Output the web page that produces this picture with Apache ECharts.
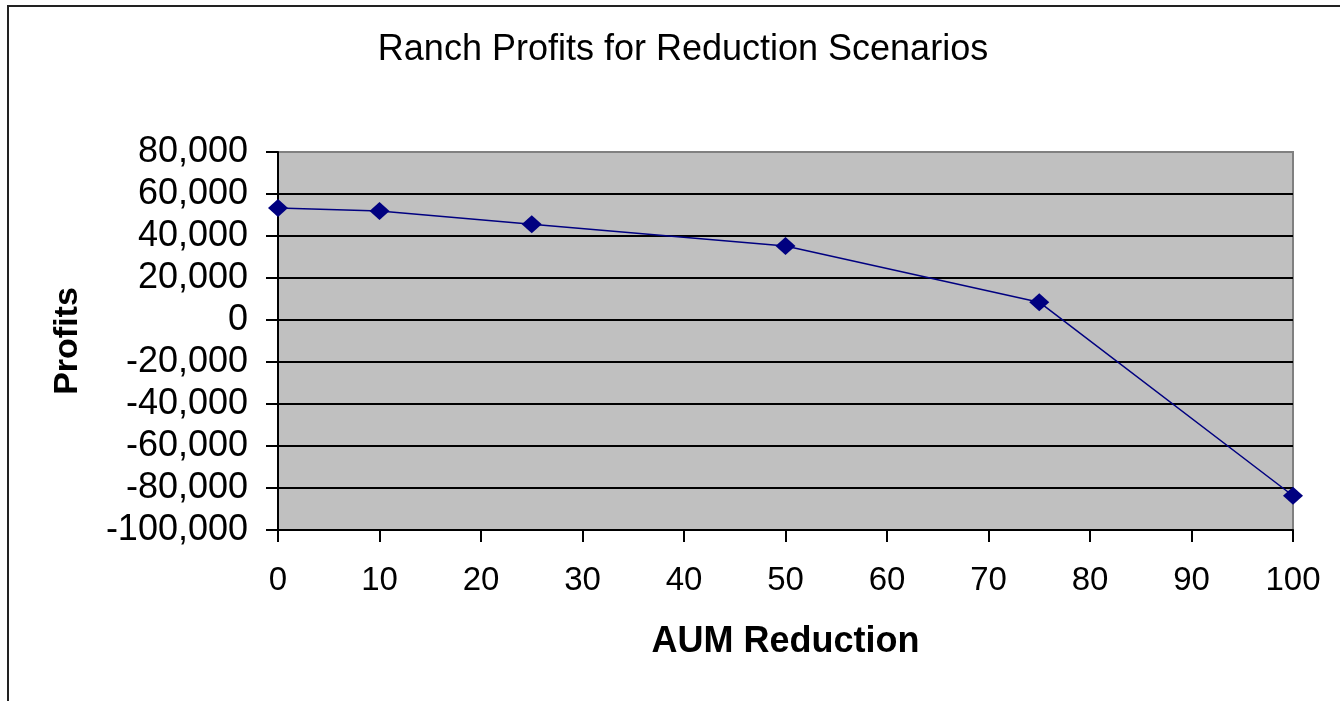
<!DOCTYPE html>
<html>
<head>
<meta charset="utf-8">
<script src="https://cdn.jsdelivr.net/npm/echarts@6/dist/echarts.min.js"></script>
<style>
  html, body { margin: 0; padding: 0; background: #fff; }
  #main { width: 1340px; height: 701px; }
</style>
</head>
<body>
<div id="main"></div>
<script>
// values
var reductions = [0, 10, 25, 50, 75, 100];
var profits = [53300, 51900, 45600, 35200, 8500, -83700];

var chartTitle = 'Ranch Profits for Reduction Scenarios';
var xName = 'AUM Reduction';
var yName = 'Profits';

var points = [];
for (var i = 0; i < reductions.length; i++) {
	points.push([reductions[i], profits[i]]);
}

var font = 'Liberation Sans, Arial, sans-serif';

var myChart = echarts.init(document.getElementById('main'));
var option = {
	backgroundColor: '#fff',
	animation: false,
	title: {
		text: chartTitle,
		left: 678,
		top: 27,
		textAlign: 'center',
		textStyle: { fontFamily: font, fontSize: 36, fontWeight: 'normal', color: '#000' }
	},
	graphic: [{
		type: 'rect',
		shape: { x: 8, y: 6, width: 1400, height: 800 },
		style: { fill: 'none', stroke: '#222', lineWidth: 2 },
		silent: true
	}],
	grid: {
		left: 278,
		top: 152,
		width: 1015,
		height: 378,
		show: true,
		backgroundColor: '#c0c0c0',
		borderColor: '#808080',
		borderWidth: 2
	},
	xAxis: {
		type: 'value',
		min: 0,
		max: 100,
		interval: 10,
		name: xName,
		nameLocation: 'middle',
		nameGap: 94,
		nameTextStyle: { fontFamily: font, fontSize: 36, fontWeight: 'bold', color: '#000' },
		axisLine: { show: true, onZero: false, lineStyle: { color: '#000', width: 2 } },
		axisTick: { show: true, inside: false, length: 12, lineStyle: { color: '#000', width: 2 } },
		axisLabel: { margin: 34, fontFamily: font, fontSize: 33, color: '#000' },
		splitLine: { show: false }
	},
	yAxis: {
		type: 'value',
		min: -100000,
		max: 80000,
		interval: 20000,
		name: yName,
		nameLocation: 'middle',
		nameGap: 193,
		nameRotate: 90,
		nameTextStyle: { fontFamily: font, fontSize: 34, fontWeight: 'bold', color: '#000' },
		axisLine: { show: true, lineStyle: { color: '#000', width: 2 } },
		axisTick: { show: true, inside: false, length: 12, lineStyle: { color: '#000', width: 2 } },
		axisLabel: {
			margin: 30,
			fontFamily: font,
			fontSize: 36,
			color: '#000',
			formatter: function (v) { return v.toLocaleString('en-US'); }
		},
		splitLine: {
			show: true,
			lineStyle: {
				color: ['#000', '#000', '#000', '#000', '#000', '#000', '#000', '#000', '#000', '#808080'],
				width: 2
			}
		}
	},
	series: [{
		type: 'line',
		data: points,
		symbol: 'diamond',
		symbolSize: [20, 18],
		lineStyle: { color: '#000080', width: 1.5 },
		itemStyle: { color: '#000080' },
		clip: false
	}]
};
myChart.setOption(option);
</script>
</body>
</html>
